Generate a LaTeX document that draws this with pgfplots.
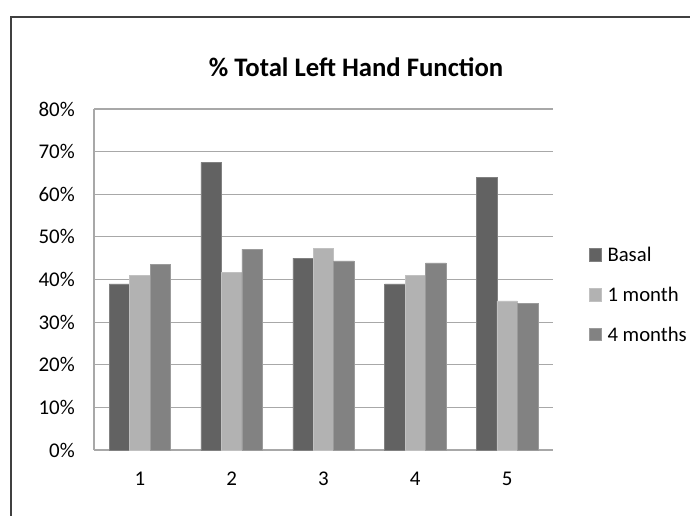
\documentclass[border=0pt]{standalone}
\usepackage{pgfplots}
\pgfplotsset{compat=1.18}
\usepackage{fontspec}
\setmainfont{Carlito}
\definecolor{cBasal}{HTML}{626262}
\definecolor{cOne}{HTML}{B2B2B2}
\definecolor{cFour}{HTML}{828282}
\definecolor{cGrid}{HTML}{A8A8A8}
\definecolor{cFrame}{HTML}{404040}
\begin{document}
\begin{tikzpicture}
\useasboundingbox (0,0) rectangle (690bp,-516bp);
\draw[cFrame, line width=1.2bp] (11bp,-520bp) -- (11bp,-17bp) -- (695bp,-17bp);
\begin{axis}[
  at={(94bp,-450bp)}, anchor=south west,
  scale only axis, width=459bp, height=341bp,
  ybar=0pt, bar width=0.223,
  xmin=0.5, xmax=5.5, ymin=0, ymax=80,
  xtick={1,2,3,4,5}, ytick={0,10,...,80},
  yticklabel={\pgfmathprintnumber{\tick}\%},
  /pgf/number format/assume math mode=true,
  major tick length=0pt,
  axis x line=bottom, axis y line=left,
  axis line style={cGrid, line width=1.2bp, -},
  ymajorgrids, grid style={cGrid, line width=1.2bp},
  tick label style={font=\fontsize{21}{25}\selectfont, text=black},
  yticklabel style={anchor=east, inner sep=0pt, xshift=-19bp},
  xticklabel style={anchor=base, inner sep=0pt, yshift=-35bp},
  title={\% Total Left Hand Function},
  title style={at={(0.571,1.105)}, anchor=center, font=\bfseries\fontsize{26.8}{32}\selectfont},
  legend style={at={(1.077,0.455)}, anchor=west, draw=none, fill=none, inner sep=0pt,
    font=\fontsize{20.8}{25}\selectfont, row sep=20bp, legend cell align=left},
  legend image code/.code={\fill[#1] (0bp,-6bp) rectangle (12.5bp,6.5bp);},
]
\addplot[fill=cBasal, draw=cBasal!80!white, line width=0.5bp] coordinates {(1,39.0) (2,67.5) (3,45.0) (4,39.0) (5,63.9)};
\addplot[fill=cOne, draw=cOne!80!white, line width=0.5bp] coordinates {(1,41.0) (2,41.6) (3,47.3) (4,41.0) (5,35.0)};
\addplot[fill=cFour, draw=cFour!80!white, line width=0.5bp] coordinates {(1,43.5) (2,47.1) (3,44.4) (4,43.9) (5,34.4)};
\legend{\hspace{4bp}Basal, \hspace{4bp}1 month, \hspace{4bp}4 months}
\end{axis}
\end{tikzpicture}
\end{document}
